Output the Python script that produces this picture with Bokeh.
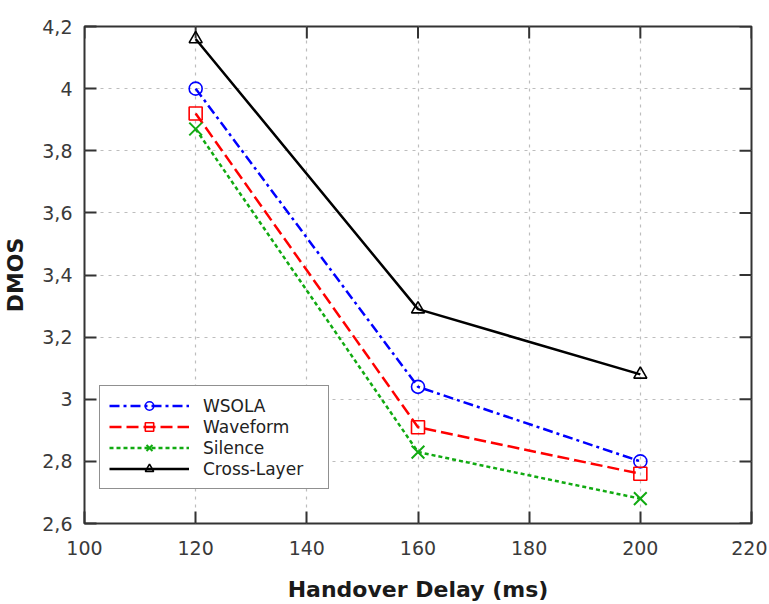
import math
from bokeh.plotting import figure
from bokeh.models import Range1d, FixedTicker, Legend
from bokeh.embed import file_html
from bokeh.resources import INLINE

delays = [120, 160, 200]
wsola = [4.00, 3.04, 2.80]
waveform = [3.92, 2.91, 2.76]
silence = [3.87, 2.83, 2.68]
cross_layer = [4.16, 3.29, 3.08]

x_ticks = [100, 120, 140, 160, 180, 200, 220]
y_ticks = [2.6, 2.8, 3.0, 3.2, 3.4, 3.6, 3.8, 4.0, 4.2]
y_tick_labels = ["2,6", "2,8", "3", "3,2", "3,4", "3,6", "3,8", "4", "4,2"]
x_min, x_max = 100, 220
y_min, y_max = 2.6, 4.2

FONT = "DejaVu Sans"

p = figure(frame_width=667, frame_height=497, output_backend="svg", toolbar_location=None,
           x_range=Range1d(x_min, x_max), y_range=Range1d(y_min, y_max),
           min_border_left=70, min_border_top=26, min_border_right=16, min_border_bottom=60,
           x_axis_label="Handover Delay (ms)", y_axis_label="DMOS")

p.outline_line_color = "#333333"
p.outline_line_width = 2
p.outline_line_alpha = 1.0

xt = FixedTicker(ticks=x_ticks)
yt = FixedTicker(ticks=y_ticks)
p.xaxis.ticker = xt
p.yaxis.ticker = yt
p.yaxis.major_label_overrides = {v: s for v, s in zip(y_ticks, y_tick_labels)}

for ax in [p.xaxis[0], p.yaxis[0]]:
    ax.axis_line_color = None
    ax.major_tick_in = 12
    ax.major_tick_out = 0
    ax.minor_tick_in = 0
    ax.minor_tick_out = 0
    ax.major_tick_line_color = "#333333"
    ax.major_tick_line_width = 2
    ax.major_label_text_font = FONT
    ax.major_label_text_font_size = "19px"
    ax.major_label_text_color = "#3a3a3a"
    ax.axis_label_text_font = FONT
    ax.axis_label_text_font_size = "22px"
    ax.axis_label_text_font_style = "bold"
    ax.axis_label_text_color = "#1a1a1a"

p.xaxis.major_label_standoff = 17
p.xaxis.axis_label_standoff = 19
p.yaxis.major_label_standoff = 12
p.yaxis.axis_label_standoff = 11

# inward ticks on top and right frame edges
p.ray(x=x_ticks, y=y_max, length=12, length_units="screen", angle=-math.pi / 2,
      line_color="#333333", line_width=2)
p.ray(x=x_max, y=y_ticks, length=12, length_units="screen", angle=math.pi,
      line_color="#333333", line_width=2)

p.xgrid.ticker = xt
p.ygrid.ticker = yt
for g in [p.xgrid[0], p.ygrid[0]]:
    g.grid_line_color = "#bdbdbd"
    g.grid_line_dash = "3 5"
    g.grid_line_width = 1.2

series = [
    ("WSOLA", wsola, "#0000ff", "10 4 3 4", "circle", 13, 1.6),
    ("Waveform", waveform, "#ff0000", "12 5", "square", 13, 1.6),
    ("Silence", silence, "#11aa11", "4 3", "x", 18, 2.0),
    ("Cross-Layer", cross_layer, "#000000", "solid", "triangle", 13, 1.6),
]

items = []
for name, vals, color, dash, marker, size, mlw in series:
    l = p.line(delays, vals, line_color=color, line_width=2.5, line_dash=dash)
    s = p.scatter(delays, vals, marker=marker, size=size, line_color=color,
                  line_width=mlw, fill_alpha=0)
    items.append((name, [l, s]))

legend = Legend(items=items, location=(15, 34), margin=0)
legend.border_line_color = "#222222"
legend.border_line_width = 1.5
legend.background_fill_color = "white"
legend.background_fill_alpha = 1.0
legend.label_text_font = FONT
legend.label_text_font_size = "17px"
legend.label_text_color = "#222222"
legend.glyph_width = 80
legend.glyph_height = 21
legend.label_height = 21
legend.label_width = 116
legend.label_standoff = 14
legend.spacing = 0
legend.padding = 9
p.add_layout(legend, "center")

open("out.html", "w").write(file_html(p, INLINE))
